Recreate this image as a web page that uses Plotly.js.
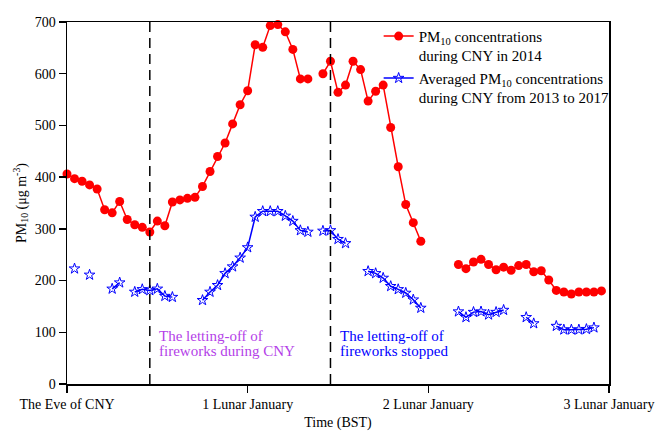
<!DOCTYPE html>
<html>
<head>
<meta charset="utf-8">
<script src="https://cdn.plot.ly/plotly-3.0.1.min.js"></script>
<style>html,body{margin:0;padding:0;background:#fff;}#chart{width:656px;height:432px;}</style>
</head>
<body>
<div id="chart"></div>
<script>
// Hours since the Eve of CNY
var hours = [0,1,2,3,4,5,6,7,8,9,10,11,12,13,14,15,16,17,18,19,20,21,22,23,
             24,25,26,27,28,29,30,31,32,33,34,35,36,37,38,39,40,41,42,43,44,45,46,47,
             48,49,50,51,52,53,54,55,56,57,58,59,60,61,62,63,64,65,66,67,68,69,70,71];

// PM10 during CNY in 2014 (µg m-3)
var pm2014 = [406,397,392,385,377,337,331,353,318,308,303,294,315,306,352,356,359,361,382,411,440,466,503,540,
              567,656,651,693,695,681,647,590,590,null,600,624,564,578,624,608,547,566,578,496,420,347,312,276,
              null,null,null,null,231,223,236,241,231,221,226,220,229,231,217,219,201,181,178,174,178,178,178,180];

// Averaged PM10 during CNY 2013-2017 (µg m-3)
var pmAvg = [null,223,null,211,null,null,184,196,null,178,183,181,184,170,168,null,null,null,162,178,191,214,227,244,
             264,323,334,334,334,325,315,297,294,null,296,297,280,272,null,null,218,214,205,189,183,176,163,147,
             null,null,null,null,140,129,139,140,134,139,143,null,null,129,117,null,null,112,105,105,105,106,109,null];

var tickHours = [0,24,48,72];
var tickLabels = ['The Eve of CNY','1 Lunar January','2 Lunar January','3 Lunar January'];
var eventHours = [11,35];
var eventText = [['The letting-off of','fireworks during CNY'],['The letting-off of','fireworks stopped']];
var eventColors = ['#b43fe8','#0000ff'];

var FONT = 'Liberation Serif, Times New Roman, serif';

var traces = [
  {x: hours, y: pm2014, type: 'scatter', mode: 'lines+markers', connectgaps: false, cliponaxis: false,
   name: 'PM<sub>10</sub> concentrations<br>during CNY in 2014',
   line: {color: '#ff0000', width: 1.5},
   marker: {symbol: 'circle', size: 9, color: '#ff0000'}},
  {x: hours, y: pmAvg, type: 'scatter', mode: 'lines+markers', connectgaps: false, cliponaxis: false,
   name: 'Averaged PM<sub>10</sub> concentrations<br>during CNY from 2013 to 2017',
   line: {color: '#0000ff', width: 1.5},
   marker: {symbol: 'star-open', size: 8, color: '#0000ff', line: {width: 1, color: '#0000ff'}}}
];

var shapes = eventHours.map(function(h){
  return {type: 'line', xref: 'x', yref: 'paper', x0: h, x1: h, y0: 0, y1: 1,
          line: {color: '#000', width: 1.5, dash: '10px,6px'}};
});

var annotations = [];
eventHours.forEach(function(h, i){
  eventText[i].forEach(function(t, j){
    annotations.push({x: h + 1, y: 92 - j * 29, xref: 'x', yref: 'y', xanchor: 'left', yanchor: 'middle',
      text: t, showarrow: false, font: {family: FONT, size: 15, color: eventColors[i]}});
  });
});

var layout = {
  width: 656, height: 432,
  margin: {l: 67, r: 47, t: 22, b: 48},
  paper_bgcolor: '#fff', plot_bgcolor: '#fff',
  font: {family: FONT, size: 14, color: '#000'},
  showlegend: true,
  legend: {x: 0.575, y: 1.006, xanchor: 'left', yanchor: 'top', bgcolor: 'rgba(0,0,0,0)',
           font: {family: FONT, size: 15, color: '#000'}, valign: 'top', tracegroupgap: 0},
  xaxis: {range: [0, 72], tickvals: tickHours, ticktext: tickLabels, showgrid: false, zeroline: false,
          showline: true, linecolor: '#000', linewidth: 1.5, mirror: true, ticks: 'outside', ticklen: 7,
          tickwidth: 1.5, tickcolor: '#000', tickfont: {family: FONT, size: 14},
          title: {text: 'Time (BST)', font: {family: FONT, size: 14}, standoff: 6}},
  yaxis: {range: [0, 700], dtick: 100, showgrid: false, zeroline: false,
          showline: true, linecolor: '#000', linewidth: 1.5, mirror: true, ticks: 'outside', ticklen: 7,
          tickwidth: 1.5, tickcolor: '#000', tickfont: {family: FONT, size: 14},
          title: {text: 'PM<sub>10</sub> (μg m<sup>-3</sup>)', font: {family: FONT, size: 14}, standoff: 5}},
  shapes: shapes,
  annotations: annotations
};

Plotly.newPlot('chart', traces, layout, {displayModeBar: false, staticPlot: true});
</script>
</body>
</html>
